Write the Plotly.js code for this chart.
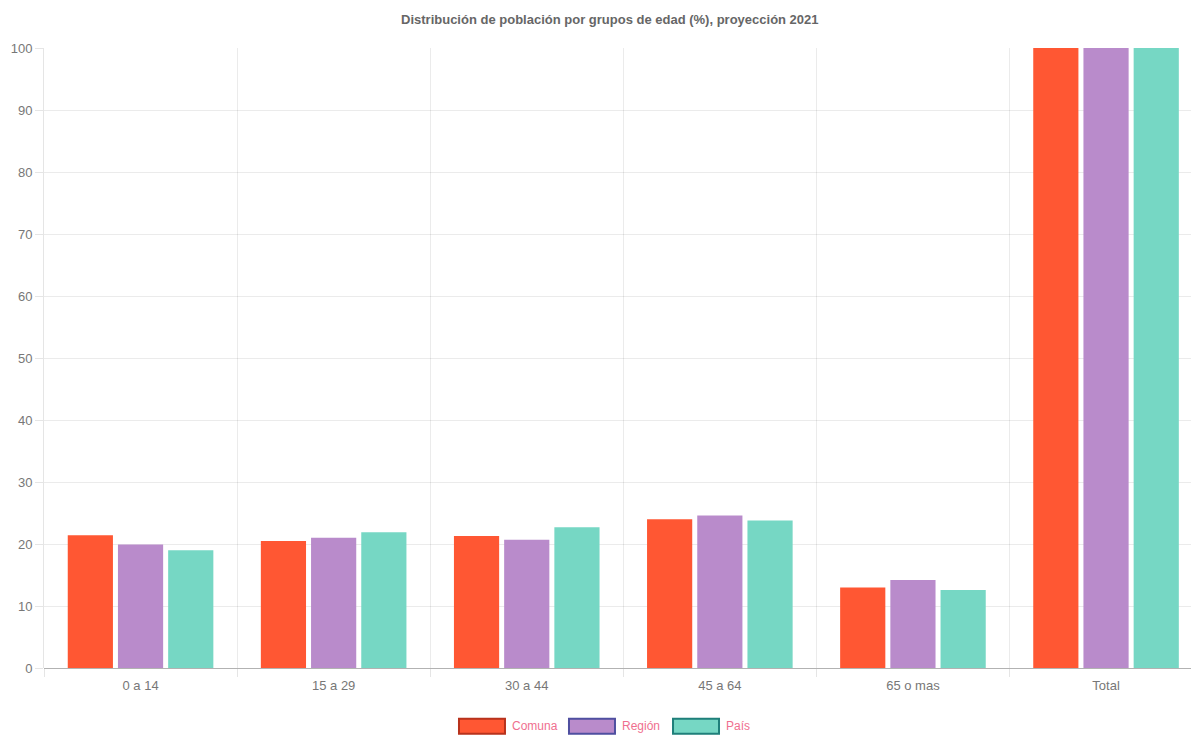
<!DOCTYPE html>
<html>
<head>
<meta charset="utf-8">
<script src="https://cdn.plot.ly/plotly-3.0.1.min.js"></script>
<style>html,body{margin:0;padding:0;background:#fff;}#chart{width:1191px;height:735px;}</style>
</head>
<body>
<div id="chart"></div>
<script>
const categories = ["0 a 14", "15 a 29", "30 a 44", "45 a 64", "65 o mas", "Total"];
const seriesNames = ["Comuna", "Región", "País"];
const comuna = [21.4, 20.5, 21.3, 24.0, 13.0, 100];
const region = [19.9, 21.0, 20.7, 24.6, 14.2, 100];
const pais = [19.0, 21.9, 22.7, 23.8, 12.6, 100];
const yTicks = [0, 10, 20, 30, 40, 50, 60, 70, 80, 90, 100];

const fills = ["#ff5733", "#b98bcb", "#76d7c4"];
const borders = ["#b8321c", "#4f4fa0", "#1f7f7a"];
const legendText = "#ef6f8f";
const font = "'Liberation Sans Narrow', 'Liberation Sans', Arial, sans-serif";

const values = [comuna, region, pais];
const traces = seriesNames.map((name, i) => ({
  type: "bar",
  name: name,
  x: categories,
  y: values[i],
  marker: {color: fills[i], line: {width: 0}},
  hoverinfo: "x+y+name"
}));

// custom legend (wide boxes like original)
const shapes = [];
const annotations = [];
const legendX = [0.3618, 0.4577, 0.5484]; // paper x of box left edges
const boxW = 0.0401;
seriesNames.forEach((name, i) => {
  shapes.push({
    type: "rect", xref: "paper", yref: "paper",
    x0: legendX[i], x1: legendX[i] + boxW, y0: -0.106, y1: -0.082,
    fillcolor: fills[i], line: {color: borders[i], width: 2}
  });
  annotations.push({
    xref: "paper", yref: "paper", x: legendX[i] + boxW + 0.004, y: -0.094,
    xanchor: "left", yanchor: "middle", showarrow: false,
    text: name, font: {family: font, size: 12, color: legendText}
  });
});

const layout = {
  width: 1191, height: 735,
  margin: {l: 44, r: 0, t: 48, b: 67, pad: 0},
  paper_bgcolor: "#fff", plot_bgcolor: "#fff",
  title: {text: "<b>Distribución de población por grupos de edad (%), proyección 2021</b>",
          font: {family: font, size: 13, color: "#666"}, x: 0.512, xanchor: "center", y: 0.973, yanchor: "middle"},
  showlegend: false,
  barmode: "group", bargap: 0.22, bargroupgap: 0.1,
  xaxis: {
    type: "category", range: [-0.5, 5.44], tickson: "boundaries",
    showgrid: true, gridcolor: "rgba(0,0,0,0.08)", gridwidth: 1,
    ticks: "outside", ticklen: 8, tickcolor: "rgba(0,0,0,0.1)",
    ticklabelstandoff: 8,
    showline: false, zeroline: false,
    tickfont: {family: font, size: 13, color: "#777"}, fixedrange: true
  },
  yaxis: {
    range: [0, 100], tickvals: yTicks, ticktext: yTicks.map(String),
    showgrid: true, gridcolor: "rgba(0,0,0,0.08)", gridwidth: 1,
    ticks: "outside", ticklen: 8, tickcolor: "rgba(0,0,0,0.1)",
    showline: true, linecolor: "rgba(0,0,0,0.1)", linewidth: 1,
    zeroline: true, zerolinecolor: "rgba(0,0,0,0.3)", zerolinewidth: 1,
    tickfont: {family: font, size: 13, color: "#777"}, fixedrange: true
  },
  shapes: shapes, annotations: annotations
};

Plotly.newPlot("chart", traces, layout, {displayModeBar: false, responsive: false});
</script>
</body>
</html>
